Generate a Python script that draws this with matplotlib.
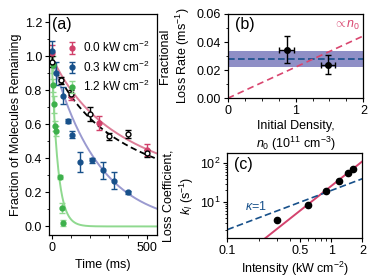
import numpy as np
import matplotlib
matplotlib.use('Agg')
import matplotlib.pyplot as plt
from matplotlib.ticker import MultipleLocator, LogLocator, NullFormatter, FixedLocator, FixedFormatter

plt.rcParams['font.family'] = ['Liberation Sans', 'DejaVu Sans']
plt.rcParams['font.size'] = 9
plt.rcParams['mathtext.fontset'] = 'custom'
plt.rcParams['mathtext.rm'] = 'Liberation Sans'
plt.rcParams['mathtext.it'] = 'Liberation Sans:italic'

# panel (a) data
t_red = [0, 100, 250, 500]
y_red = [1.02, 0.765, 0.61, 0.45]
e_red = [0.05, 0.02, 0.04, 0.035]

t_open = [0, 50, 100, 200, 300, 400, 500]
y_open = [0.97, 0.86, 0.78, 0.66, 0.53, 0.545, 0.43]
e_open = [0.03, 0.02, 0.02, 0.04, 0.02, 0.025, 0.02]

t_blue = [0, 25, 60, 85, 105, 150, 210, 270, 330, 400]
y_blue = [1.03, 0.90, 0.77, 0.62, 0.54, 0.38, 0.39, 0.33, 0.27, 0.20]
e_blue = [0.06, 0.07, 0.05, 0.01, 0.02, 0.06, 0.015, 0.05, 0.05, 0.01]

t_green = [5, 8, 12, 17, 22, 42, 52, 60]
y_green = [0.95, 0.83, 0.72, 0.59, 0.56, 0.29, 0.11, 0.02]
e_green = [0.05, 0.04, 0.05, 0.03, 0.03, 0.01, 0.03, 0.02]

# fit parameters for panel (a)
k_red = 0.0024      # two-body, 1/ms
a_dash, k_dash = 0.97, 0.0026
tau_blue = 245.0    # ms
tau_green = 32.0    # ms

# panel (b) data
n0 = [0.87, 1.48]
n0_err = [0.11, 0.10]
rate = [0.0345, 0.024]
rate_err = [0.0095, 0.007]
rate_mean = 0.0281
rate_lo, rate_hi = 0.0221, 0.0338
prop_slope = 0.0222

# panel (c) data
intensity = [0.30, 0.60, 0.89, 1.20, 1.45, 1.64]
k_loss = [3.5, 8.5, 19.8, 35, 55, 71]
kappa1_coef = 20.0
fit_coef, fit_exp = 26.0, 2.1

c_red, c_red_l = '#d1406a', '#de7f99'
c_blue, c_blue_l = '#17508a', '#9a9ad0'
c_green, c_green_l = '#3db04b', '#8fd98f'

fig = plt.figure(figsize=(3.74, 2.80), dpi=100)

# ---- (a)
ax = fig.add_axes([0.131, 0.161, 0.288, 0.789])
t = np.linspace(0, 560, 400)
ax.plot(t, 1 / (1 + k_red * t), color=c_red_l, lw=1.4)
ax.plot(t, np.exp(-t / tau_blue), color=c_blue_l, lw=1.4)
ax.plot(t, np.exp(-t / tau_green), color=c_green_l, lw=1.4)
ax.plot(t, a_dash / (1 + k_dash * t), color='black', lw=1.3, ls=(0, (3.5, 2)))
kw = dict(fmt='o', ms=3.5, capsize=2, elinewidth=1, capthick=1)
ax.errorbar(t_green, y_green, yerr=e_green, color=c_green, ecolor=c_green_l, label=r'1.2 kW cm$^{-2}$', **kw)
ax.errorbar(t_red, y_red, yerr=e_red, color=c_red, label=r'0.0 kW cm$^{-2}$', **kw)
ax.errorbar(t_blue, y_blue, yerr=e_blue, color=c_blue, label=r'0.3 kW cm$^{-2}$', **kw)
ax.errorbar(t_open, y_open, yerr=e_open, fmt='o', ms=3.5, mfc='white', mec='black', color='black',
            capsize=2, elinewidth=1, capthick=1)
h, l = ax.get_legend_handles_labels()
order = [1, 2, 0]
ax.legend([h[i] for i in order], [l[i] for i in order], loc='upper right', frameon=False,
          handlelength=0.8, handletextpad=0.5, labelspacing=0.35, fontsize=8.5,
          bbox_to_anchor=(1.03, 0.93))
ax.set_xlim(-14, 553)
ax.set_ylim(-0.05, 1.25)
ax.set_xticks([0, 500])
ax.xaxis.set_minor_locator(MultipleLocator(100))
ax.set_yticks([0.0, 0.2, 0.4, 0.6, 0.8, 1.0, 1.2])
ax.yaxis.set_minor_locator(MultipleLocator(0.1))
ax.set_xlabel('Time (ms)')
ax.set_ylabel('Fraction of Molecules Remaining', labelpad=2)
ax.text(0.03, 0.985, '(a)', transform=ax.transAxes, fontsize=11.5, va='top', ha='left')

# ---- (b)
bx = fig.add_axes([0.609, 0.649, 0.3626, 0.301])
bx.axhspan(rate_lo, rate_hi, color='#8f8fc6', lw=0)
bx.axhline(rate_mean, color=c_blue, ls=(0, (4, 2)), lw=1.2)
xn = np.linspace(0, 2, 50)
bx.plot(xn, prop_slope * xn, color='#d9466f', ls=(0, (4, 2.5)), lw=1.2)
bx.errorbar(n0, rate, xerr=n0_err, yerr=rate_err, fmt='o', ms=4, color='black',
            capsize=2, elinewidth=1, capthick=1)
bx.text(1.55, 0.052, r'$\propto n_0$', color='#d9466f', fontsize=9, va='center')
bx.set_xlim(0, 2)
bx.set_ylim(0, 0.06)
bx.set_xticks([0, 1, 2])
bx.xaxis.set_minor_locator(MultipleLocator(0.25))
bx.set_yticks([0.0, 0.02, 0.04, 0.06])
bx.set_yticklabels(['0.00', '0.02', '0.04', '0.06'])
bx.yaxis.set_minor_locator(MultipleLocator(0.01))
bx.set_xlabel('Initial Density,\n$n_0$ ($10^{11}$ cm$^{-3}$)', labelpad=2)
bx.set_ylabel('Fractional\nLoss Rate (ms$^{-1}$)', labelpad=3)
bx.text(0.05, 0.96, '(b)', transform=bx.transAxes, fontsize=11.5, va='top', ha='left')

# ---- (c)
cx = fig.add_axes([0.608, 0.149, 0.361, 0.304])
xi = np.logspace(-1, np.log10(2), 100)
cx.plot(xi, fit_coef * xi ** fit_exp, color='#d4436e', lw=1.4)
cx.plot(xi, kappa1_coef * xi, color=c_blue, ls=(0, (4, 2)), lw=1.2)
cx.plot(intensity, k_loss, 'o', color='black', ms=4.5)
cx.text(0.148, 8.0, r'$\kappa$=1', color=c_blue, fontsize=9, va='center')
cx.set_xscale('log')
cx.set_yscale('log')
cx.set_xlim(0.1, 2)
cx.set_ylim(1.2, 180)
cx.xaxis.set_major_locator(FixedLocator([0.1, 0.5, 1, 2]))
cx.xaxis.set_major_formatter(FixedFormatter(['0.1', '0.5', '1', '2']))
cx.xaxis.set_minor_locator(LogLocator(base=10, subs=np.arange(2, 10)))
cx.xaxis.set_minor_formatter(NullFormatter())
cx.set_xlabel('Intensity (kW cm$^{-2}$)', labelpad=2)
cx.set_ylabel('Loss Coefficient,\n$k_l$ (s$^{-1}$)', labelpad=3)
cx.text(0.05, 0.96, '(c)', transform=cx.transAxes, fontsize=11.5, va='top', ha='left')

for a in (ax, bx, cx):
    a.tick_params(which='major', length=3, width=0.8, pad=2)
    a.tick_params(which='minor', length=1.8, width=0.6)
    for s in a.spines.values():
        s.set_linewidth(0.9)

fig.savefig('out.png', dpi=100)
